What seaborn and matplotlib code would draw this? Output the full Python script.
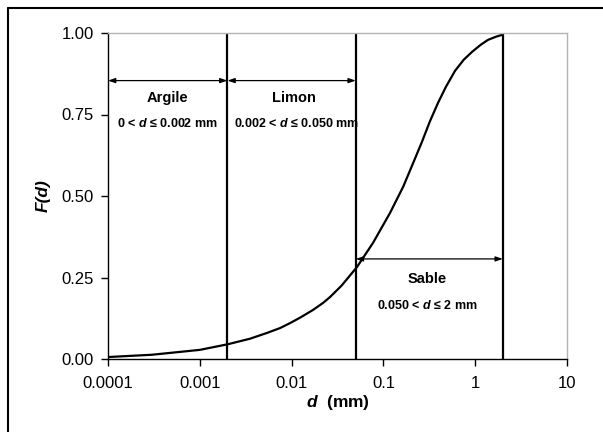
import numpy as np
import pandas as pd
import matplotlib
matplotlib.use("Agg")
import matplotlib.pyplot as plt
import seaborn as sns
from matplotlib.lines import Line2D

# ---- data ----
d_mm = [0.0001, 0.0003, 0.001, 0.002, 0.0035, 0.0054, 0.0075, 0.0096, 0.0124,
        0.017, 0.022, 0.0262, 0.035, 0.0515, 0.077, 0.118, 0.164, 0.21,
        0.263, 0.32, 0.394, 0.48, 0.603, 0.75, 0.923, 1.15, 1.38, 1.7, 2.0]
F_d = [0.006, 0.013, 0.028, 0.045, 0.062, 0.080, 0.095, 0.110, 0.127,
       0.150, 0.172, 0.190, 0.225, 0.282, 0.356, 0.448, 0.528, 0.600,
       0.666, 0.728, 0.786, 0.835, 0.884, 0.918, 0.942, 0.964, 0.979, 0.989, 0.995]
limits = [0.002, 0.05, 2.0]
classes = ["Argile", "Limon", "Sable"]
ranges = ["0 < $d$ ≤ 0.002 mm", "0.002 < $d$ ≤ 0.050 mm", "0.050 < $d$ ≤ 2 mm"]
xticks = [0.0001, 0.001, 0.01, 0.1, 1, 10]
xticklabels = ["0.0001", "0.001", "0.01", "0.1", "1", "10"]
yticks = [0.0, 0.25, 0.5, 0.75, 1.0]
yticklabels = ["0.00", "0.25", "0.50", "0.75", "1.00"]

sns.set_theme(style="white")
plt.rcParams["font.family"] = ["Liberation Sans", "DejaVu Sans"]
plt.rcParams["text.color"] = "black"
plt.rcParams["axes.labelcolor"] = "black"
plt.rcParams["xtick.color"] = "black"
plt.rcParams["ytick.color"] = "black"
plt.rcParams["mathtext.fontset"] = "custom"
plt.rcParams["mathtext.it"] = "Liberation Sans:bold:italic"
plt.rcParams["mathtext.rm"] = "Liberation Sans:bold"
plt.rcParams["mathtext.bf"] = "Liberation Sans:bold"

fig = plt.figure(figsize=(6.03, 4.32), dpi=100)
ax = fig.add_axes([108/603, 1-359/432, (567-108)/603, (359-33)/432])

df = pd.DataFrame({"d": d_mm, "F": F_d})
sns.lineplot(data=df, x="d", y="F", ax=ax, color="black", linewidth=1.6,
             estimator=None, sort=True)
for l in ax.lines:
    l.set_solid_joinstyle("round")

ax.set_xscale("log")
ax.set_xlim(0.0001, 10)
ax.set_ylim(0, 1)
ax.set_xticks(xticks)
ax.set_xticklabels(xticklabels)
ax.set_yticks(yticks)
ax.set_yticklabels(yticklabels)
ax.minorticks_off()
ax.tick_params(axis="both", which="major", direction="out", length=5, width=1,
               color="black", labelsize=12, labelcolor="black")
ax.tick_params(axis="x", pad=7)
ax.tick_params(axis="y", pad=5)
ax.xaxis.set_ticks_position("bottom")
ax.yaxis.set_ticks_position("left")

for s in ["left", "bottom"]:
    ax.spines[s].set_color("black")
    ax.spines[s].set_linewidth(1.0)
for s in ["top", "right"]:
    ax.spines[s].set_color("#b4b4b4")
    ax.spines[s].set_linewidth(1.0)

ax.set_ylabel("F(d)", fontsize=12.5, fontweight="bold", fontstyle="italic",
              labelpad=8, color="black")
ax.set_xlabel("$d$  (mm)", fontsize=12.5, fontweight="bold", labelpad=2,
              color="black")

# vertical class limits
for x in limits:
    ax.plot([x, x], [0, 1], color="black", linewidth=1.6)

# arrows
arrow_kw = dict(arrowstyle="<|-|>,head_length=0.35,head_width=0.12",
                color="black", lw=0.9, shrinkA=0, shrinkB=0)
ax.annotate("", xy=(0.0001, 0.854), xytext=(0.002, 0.854), arrowprops=arrow_kw)
ax.annotate("", xy=(0.002, 0.854), xytext=(0.05, 0.854), arrowprops=arrow_kw)
ax.annotate("", xy=(0.05, 0.307), xytext=(2.0, 0.307), arrowprops=arrow_kw)

# labels
ax.text(10**-3.35, 0.80, classes[0], ha="center", va="center",
        fontsize=10.5, fontweight="bold", color="black")
ax.text(10**-3.35, 0.721, ranges[0], ha="center", va="center",
        fontsize=9, fontweight="bold", color="black")
ax.text(10**-1.97, 0.80, classes[1], ha="center", va="center",
        fontsize=10.5, fontweight="bold", color="black")
ax.text(10**-1.95, 0.721, ranges[1], ha="center", va="center",
        fontsize=9, fontweight="bold", color="black", zorder=1)
ax.text(10**-0.525, 0.245, classes[2], ha="center", va="center",
        fontsize=10.5, fontweight="bold", color="black")
ax.text(10**-0.525, 0.163, ranges[2], ha="center", va="center",
        fontsize=9, fontweight="bold", color="black")

# outer figure border (left and top visible)
fx = 7.5/603
fy = 1 - 7.5/432
fig.lines.append(Line2D([fx, fx], [0, fy], transform=fig.transFigure,
                        color="black", linewidth=1.5))
fig.lines.append(Line2D([fx, 1], [fy, fy], transform=fig.transFigure,
                        color="black", linewidth=1.5))

fig.savefig("out.png", dpi=100)
